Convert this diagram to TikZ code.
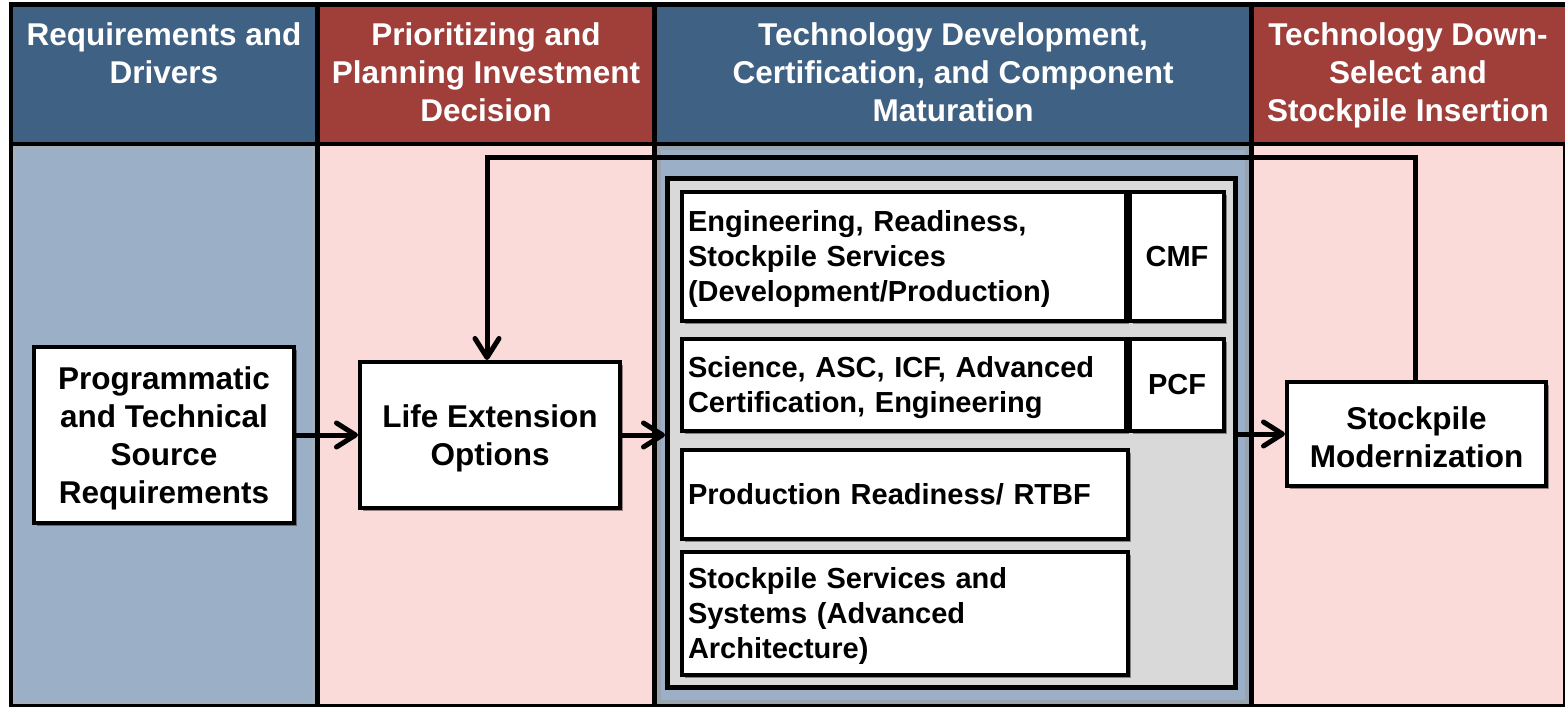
\documentclass[tikz,border=0pt]{standalone}
\usepackage{fontspec}
\setmainfont{Liberation Sans}
\usetikzlibrary{arrows.meta,shadows,calc}
\definecolor{hblue}{RGB}{63,98,132}
\definecolor{hred}{RGB}{160,62,58}
\definecolor{bblue}{RGB}{155,176,198}
\definecolor{bpink}{RGB}{250,219,217}
\definecolor{cgray}{RGB}{217,217,217}
\newcommand\mytopA{\rule{0pt}{29pt}}
\newcommand\mytopB{\rule{0pt}{27pt}}
\begin{document}
\begin{tikzpicture}[x=1pt,y=-1pt,
  hdr/.style={anchor=north, align=center, text=white, font=\fontsize{31.5}{38}\selectfont\bfseries, inner sep=0pt},
  shad/.style={drop shadow={shadow xshift=3pt, shadow yshift=-3pt, opacity=0.4, fill=black}},
  box/.style={draw=black, line width=4pt, fill=white, font=\fontsize{31.5}{38}\selectfont\bfseries, align=center, inner sep=0pt, shad},
  sbox/.style={draw=black, line width=4pt, fill=white, font=\fontsize{29}{35}\selectfont\bfseries, align=left, inner xsep=6pt, inner ysep=0pt, shad},
  tbox/.style={draw=black, line width=4pt, fill=white, font=\fontsize{29}{35}\selectfont\bfseries, align=center, inner sep=0pt, shad},
  conn/.style={line width=5pt, -{Straight Barb[length=19pt,width=24pt,line width=5pt,round]}}
]
\useasboundingbox (0,0) rectangle (1565,708);
\fill[white] (0,0) rectangle (1565,708);
% frame
\fill[black] (9,2) rectangle (1565,707);
% headers
\fill[hblue] (13,7) rectangle (315,142);
\fill[hred] (320,7) rectangle (652,142);
\fill[hblue] (657,7) rectangle (1249,142);
\fill[hred] (1254,7) rectangle (1565,142);
% bodies
\fill[bblue] (13,146) rectangle (315,704);
\fill[bpink] (320,146) rectangle (652,704);
\fill[bblue] (657,146) rectangle (1249,704);
\fill[bpink] (1254,146) rectangle (1563,704);
\draw[black!40, opacity=0.5, line width=4pt] (659,148) rectangle (1247,702);
\draw[black!30, opacity=0.4, line width=3pt] (14.5,147.5) rectangle (313.5,702.5);
% header texts
\node[hdr] (h1) at (164,22) {Requirements and\\Drivers};
\node[hdr] (h2) at (486,22) {Prioritizing and\\Planning Investment\\Decision};
\node[hdr] (h3) at (953,22) {Technology Development,\\Certification, and Component\\Maturation};
\node[hdr] (h4) at (1408,22) {Technology Down-\\Select and\\Stockpile Insertion};
% container
\node[draw=black, line width=5pt, fill=cgray, minimum width=568pt, minimum height=509pt, inner sep=0pt] (cont) at (951.5,433) {};
% inner boxes
\node[sbox, text width=432pt, minimum height=129pt] (ers) at (904,256.5) {\mytopB Engineering, Readiness,\\Stockpile Services\\(Development/Production)};
\node[tbox, minimum width=94pt, minimum height=129pt] (cmf) at (1177,256.5) {CMF};
\node[sbox, text width=432pt, minimum height=92pt] (sci) at (904,385) {\mytopB Science, ASC, ICF, Advanced\\Certification, Engineering};
\node[tbox, minimum width=94pt, minimum height=92pt] (pcf) at (1177,385) {PCF};
\node[sbox, text width=434pt, minimum height=89pt] (prr) at (905,494) {Production Readiness/ RTBF};
\node[sbox, text width=434pt, minimum height=123pt] (sss) at (905,613.5) {\mytopB Stockpile Services and\\Systems (Advanced\\Architecture)};
% main boxes
\node[box, minimum width=260pt, minimum height=176pt] (prog) at (164,435) {\mytopA Programmatic\\and Technical\\Source\\Requirements};
\node[box, minimum width=260pt, minimum height=146pt] (life) at (490,435) {\mytopA Life Extension\\Options};
\node[box, minimum width=259pt, minimum height=104pt] (stock) at (1416.5,434) {\mytopA Stockpile\\Modernization};
% connectors
\draw[conn] (prog.east) -- (prog.east -| life.west);
\draw[conn] (life.east) -- (life.east -| cont.west);
\draw[conn] (cont.east |- stock.west) -- (stock.west);
\coordinate (fbR) at (1415,158);
\coordinate (fbL) at (487,158);
\draw[conn] (fbR |- stock.north) -- (fbR) -- (fbL) -- (fbL |- life.north);
\end{tikzpicture}
\end{document}
